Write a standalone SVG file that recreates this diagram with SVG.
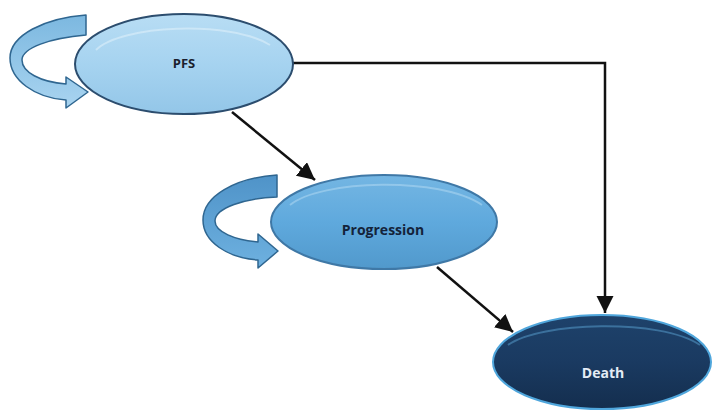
<svg xmlns="http://www.w3.org/2000/svg" width="712" height="414" viewBox="0 0 712 414">
<style>
.conn{fill:none;stroke:#111;stroke-width:2.5}
.loop{stroke:#2f6690;stroke-width:1.5;stroke-linejoin:round}
.lbl{font-family:"Open Sans","Liberation Sans",sans-serif;font-weight:bold;font-size:13px;text-anchor:middle;dominant-baseline:central}
.hl{fill:none;stroke-width:2;opacity:0.5}
</style>
<defs>
<marker id="ah" viewBox="0 0 10 10" refX="10" refY="5" markerWidth="7" markerHeight="7" markerUnits="strokeWidth" orient="auto">
<path d="M0,0 L10,5 L0,10 Z" fill="#111"/>
</marker>
<linearGradient id="gPfs" x1="0" y1="0" x2="0" y2="1">
<stop offset="0" stop-color="#b8ddf4"/><stop offset="0.5" stop-color="#a6d3f0"/><stop offset="1" stop-color="#93c6e8"/>
</linearGradient>
<linearGradient id="gProg" x1="0" y1="0" x2="0" y2="1">
<stop offset="0" stop-color="#74b6e3"/><stop offset="0.5" stop-color="#5fa9dd"/><stop offset="1" stop-color="#5199cc"/>
</linearGradient>
<linearGradient id="gDeath" x1="0" y1="0" x2="0" y2="1">
<stop offset="0" stop-color="#1e426b"/><stop offset="0.5" stop-color="#1a3a61"/><stop offset="1" stop-color="#142e4e"/>
</linearGradient>
<linearGradient id="gLoop1" x1="0" y1="0" x2="0" y2="1">
<stop offset="0" stop-color="#7cb8e0"/><stop offset="1" stop-color="#a9d4f0"/>
</linearGradient>
<linearGradient id="gLoop2" x1="0" y1="0" x2="0" y2="1">
<stop offset="0" stop-color="#4f93c8"/><stop offset="1" stop-color="#6eb1e0"/>
</linearGradient>
</defs>
<rect width="712" height="414" fill="#fff"/>

<g id="loop-pfs">
<path class="loop" fill="url(#gLoop1)" d="M 86 15 C 45 18, 10 35, 10 58 C 10 80, 35 98, 66 100 L 66 108 L 88 92 L 66 77 L 66 84 C 40 82, 22 72, 22 60 C 22 48, 50 38, 86 35 Z"/>
</g>
<g id="loop-progression">
<path class="loop" fill="url(#gLoop2)" d="M 277 175 C 235 178, 203 196, 203 220 C 203 242, 228 258, 258 260 L 258 268 L 278 251 L 258 234 L 258 242 C 235 240, 215 232, 215 221 C 215 208, 245 198, 277 197 Z"/>
</g>

<g id="connectors">
<path class="conn" marker-end="url(#ah)" d="M 293 63 L 605 63 L 605 313"/>
<path class="conn" marker-end="url(#ah)" d="M 232 112 L 315 180"/>
<path class="conn" marker-end="url(#ah)" d="M 437 267 L 513 332"/>
</g>

<g id="node-pfs">
<ellipse cx="184" cy="64" rx="109" ry="50" fill="url(#gPfs)" stroke="#2c4d6e" stroke-width="2"/>
<path class="hl" d="M 96 50 C 120 25, 230 20, 270 45" stroke="#e6f3fc"/>
<text class="lbl" x="184" y="63" fill="#1b1f2e">PFS</text>
</g>

<g id="node-progression">
<ellipse cx="384" cy="222" rx="113" ry="47" fill="url(#gProg)" stroke="#3f78a6" stroke-width="2"/>
<path class="hl" d="M 290 205 C 320 180, 440 176, 482 205" stroke="#b5dcf4"/>
<text class="lbl" x="383" y="229" fill="#14233a" style="font-size:14px">Progression</text>
</g>

<g id="node-death">
<ellipse cx="602" cy="362" rx="109" ry="47" fill="url(#gDeath)" stroke="#4fa6dc" stroke-width="2"/>
<path class="hl" d="M 508 345 C 540 322, 660 318, 700 345" stroke="#5aa2d2"/>
<text class="lbl" x="603" y="372" fill="#e4ecf5" style="font-size:14px">Death</text>
</g>
</svg>
